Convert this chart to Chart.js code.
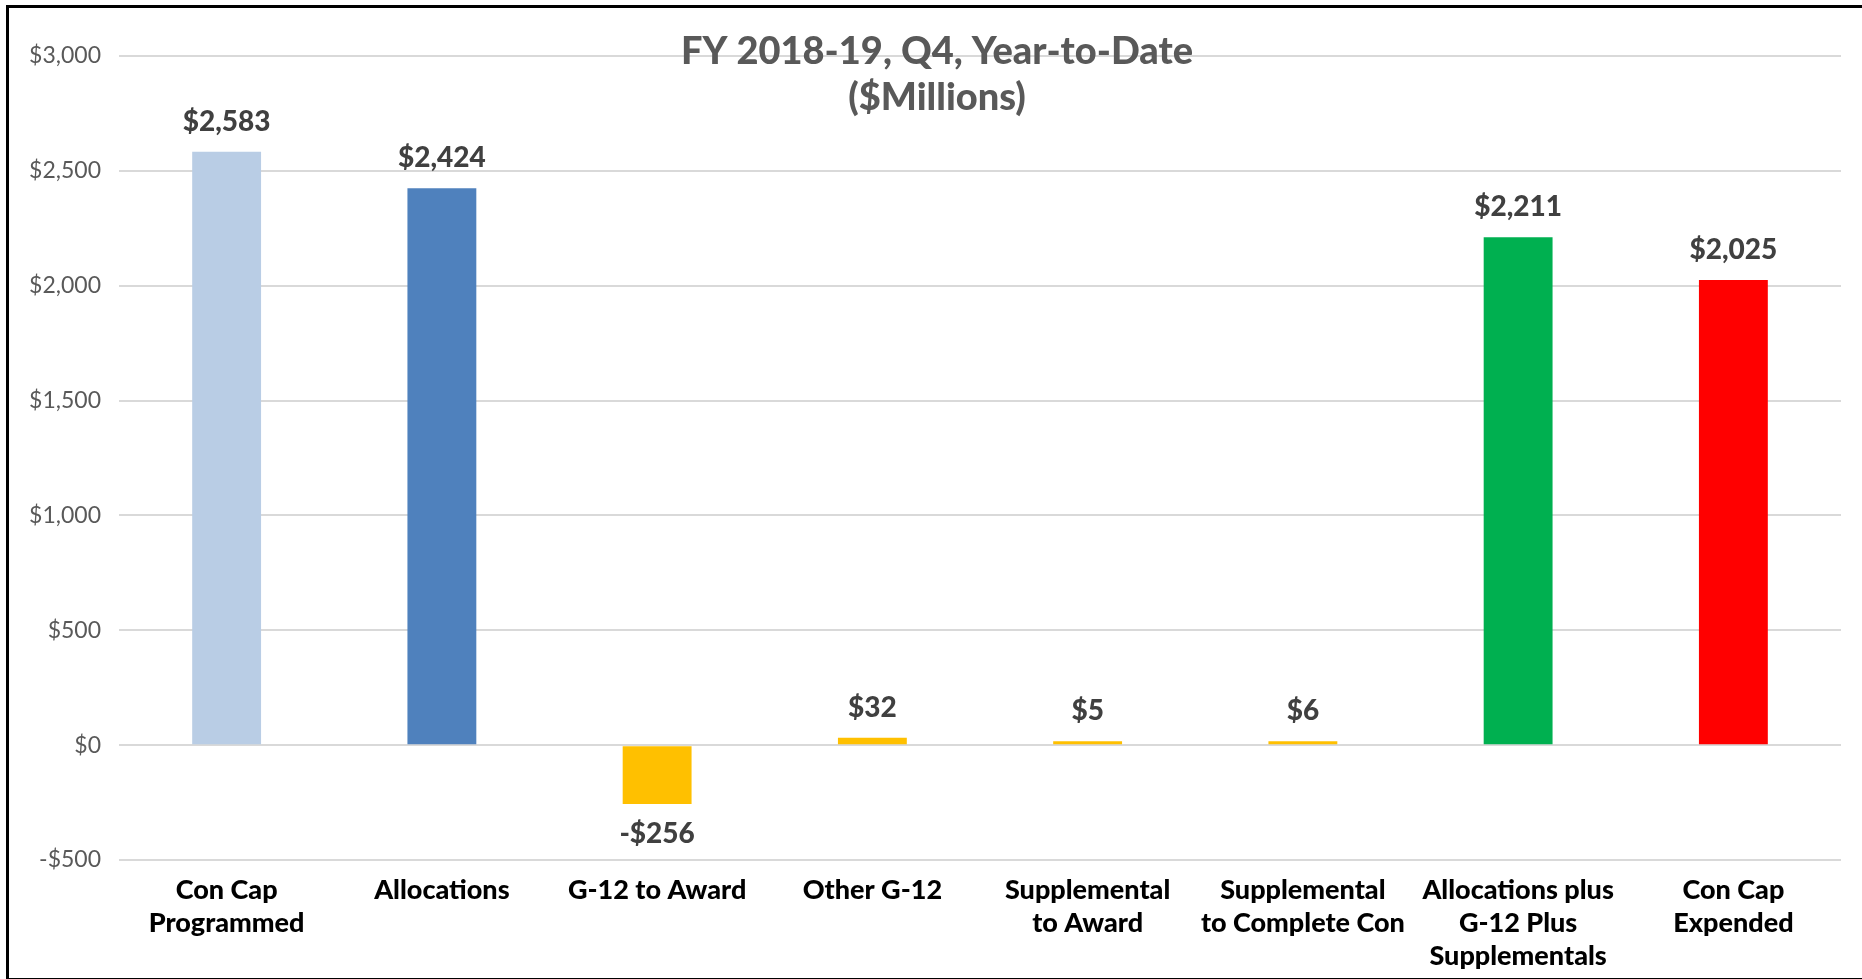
<!DOCTYPE html>
<html>
<head>
<meta charset="utf-8">
<script src="https://cdn.jsdelivr.net/npm/chart.js@4/dist/chart.umd.min.js"></script>
<style>
  html, body { margin: 0; padding: 0; background: #fff; overflow: hidden; }
  #wrap { position: absolute; left: 0; top: 0; width: 1862px; height: 979px; }
  #frame { position: absolute; left: 6px; top: 5px; width: 1870px; height: 970px; border: 3px solid #000; border-right: none; pointer-events: none; }
</style>
</head>
<body>
<div id="wrap">
  <canvas id="barChart" width="1862" height="979"></canvas>
  <div id="frame"></div>
</div>
<script>
// =========================================================================
// 1. DỮ LIỆU BIỂU ĐỒ
// =========================================================================
const categories = [
  ["Con Cap", "Programmed"],
  "Allocations",
  "G-12 to Award",
  "Other G-12",
  ["Supplemental", "to Award"],
  ["Supplemental", "to Complete Con"],
  ["Allocations plus", "G-12 Plus", "Supplementals"],
  ["Con Cap", "Expended"]
];
const values = [2583, 2424, -256, 32, 5, 6, 2211, 2025];
const barColors = ["#B9CDE5", "#4F81BD", "#FFC000", "#FFC000", "#FFC000", "#FFC000", "#00B050", "#FF0000"];
const titleLines = ["FY 2018-19, Q4, Year-to-Date", "($Millions)"];
const yMin = -500;
const yMax = 3000;
const yStep = 500;

const FONT = "Lato, 'Open Sans', 'DejaVu Sans', sans-serif";

function money(v) {
  const s = "$" + Math.abs(v).toLocaleString("en-US");
  return v < 0 ? "-" + s : s;
}

// =========================================================================
// 2. PLUGIN: TIÊU ĐỀ + NHÃN GIÁ TRỊ
// =========================================================================
const titlePlugin = {
  id: "titlePlugin",
  afterDraw(chart) {
    const ctx = chart.ctx;
    ctx.save();
    ctx.fillStyle = "#595959";
    ctx.font = "900 38px " + FONT;
    ctx.textAlign = "center";
    ctx.textBaseline = "middle";
    const cx = chart.width / 2 + 6;
    titleLines.forEach((line, i) => ctx.fillText(line, cx, 52 + i * 46));
    ctx.restore();
  }
};

const valueLabels = {
  id: "valueLabels",
  afterDatasetsDraw(chart) {
    const ctx = chart.ctx;
    const meta = chart.getDatasetMeta(0);
    ctx.save();
    ctx.fillStyle = "#404040";
    ctx.font = "900 28px " + FONT;
    ctx.textAlign = "center";
    ctx.textBaseline = "middle";
    meta.data.forEach((bar, i) => {
      const v = values[i];
      const y = v < 0 ? bar.y + 30 : bar.y - 30;
      ctx.fillText(money(v), bar.x, y);
    });
    ctx.restore();
  }
};

// =========================================================================
// 3. KHỞI TẠO BIỂU ĐỒ
// =========================================================================
const ctx = document.getElementById("barChart").getContext("2d");
new Chart(ctx, {
  type: "bar",
  data: {
    labels: categories,
    datasets: [{
      data: values,
      backgroundColor: barColors,
      borderWidth: 0,
      barPercentage: 0.32,
      categoryPercentage: 1.0,
      minBarLength: 4
    }]
  },
  options: {
    responsive: false,
    animation: false,
    devicePixelRatio: 1,
    layout: { padding: { left: 0, right: 21, top: 56, bottom: 0 } },
    plugins: { legend: { display: false }, title: { display: false }, tooltip: { enabled: false } },
    scales: {
      x: {
        grid: { display: false, drawTicks: false },
        border: { display: false },
        ticks: {
          color: "#000",
          padding: 14,
          maxRotation: 0,
          autoSkip: false,
          font: { family: FONT, size: 27, weight: "900", lineHeight: 1.22 }
        },
        afterFit(axis) { axis.height = 119; }
      },
      y: {
        min: yMin,
        max: yMax,
        grid: { color: "#D9D9D9", lineWidth: 2, drawTicks: false },
        border: { display: false },
        ticks: {
          stepSize: yStep,
          color: "#595959",
          padding: 18,
          font: { family: FONT, size: 23 },
          callback: (v) => money(v)
        },
        afterFit(axis) { axis.width = 119; }
      }
    }
  },
  plugins: [valueLabels, titlePlugin]
});
</script>
</body>
</html>
